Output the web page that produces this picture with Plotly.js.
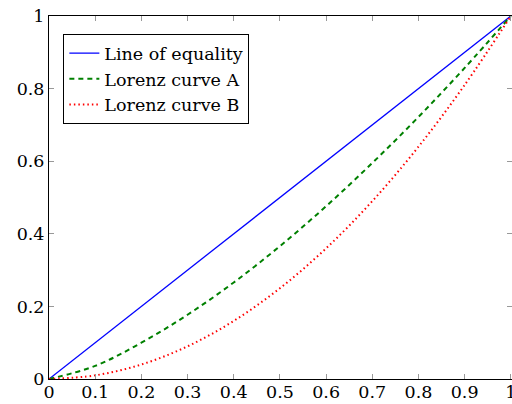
<!DOCTYPE html>
<html>
<head>
<meta charset="utf-8">
<script src="https://cdn.plot.ly/plotly-3.0.1.min.js"></script>
<style>html,body{margin:0;padding:0;background:#fff;}</style>
</head>
<body>
<div id="chart" style="width:512px;height:404px"></div>
<script>
// Data
const xShare = [0, 0.1, 0.2, 0.3, 0.4, 0.5, 0.6, 0.7, 0.8, 0.9, 1];
const equality = [0, 0.1, 0.2, 0.3, 0.4, 0.5, 0.6, 0.7, 0.8, 0.9, 1];
const lorenzA = [0, 0.036, 0.1, 0.177, 0.266, 0.366, 0.476, 0.595, 0.722, 0.857, 1];
const lorenzB = [0, 0.01, 0.04, 0.09, 0.16, 0.25, 0.36, 0.49, 0.64, 0.81, 1];
const names = ["Line of equality", "Lorenz curve A", "Lorenz curve B"];
const xTicks = [0, 0.1, 0.2, 0.3, 0.4, 0.5, 0.6, 0.7, 0.8, 0.9, 1];
const xTickText = ["0", "0.1", "0.2", "0.3", "0.4", "0.5", "0.6", "0.7", "0.8", "0.9", "1"];
const yTicks = [0, 0.2, 0.4, 0.6, 0.8, 1];
const yTickText = ["0", "0.2", "0.4", "0.6", "0.8", "1"];

const font = "DejaVu Serif";
const fsize = 17.5;

const traces = [
  {x: xShare, y: equality, name: names[0], mode: "lines", line: {color: "#0000ff", width: 1.3}},
  {x: xShare, y: lorenzA, name: names[1], mode: "lines", line: {color: "#008000", width: 2, dash: "5px,4px", shape: "spline"}},
  {x: xShare, y: lorenzB, name: names[2], mode: "lines", line: {color: "#ff0000", width: 2, dash: "1.5px,3px", shape: "spline"}}
];
const axisCommon = {
  showline: true, linecolor: "#000", linewidth: 1, mirror: "ticks",
  ticks: "inside", ticklen: 5, tickwidth: 1, tickcolor: "#999",
  showgrid: false, zeroline: false,
  ticklabeloverflow: "allow"
};
const layout = {
  width: 512, height: 404,
  margin: {l: 49, r: 0, t: 16, b: 25},
  paper_bgcolor: "#fff", plot_bgcolor: "#fff",
  font: {family: font, size: fsize, color: "#000"},
  showlegend: true,
  legend: {
    x: 0.031, y: 0.95, xanchor: "left", yanchor: "top",
    bordercolor: "#000", borderwidth: 1, bgcolor: "#fff",
    tracegroupgap: 0
  },
  xaxis: Object.assign({}, axisCommon, {range: [0, 1.0025], tickvals: xTicks, ticktext: xTickText, ticklabelstandoff: -3}),
  yaxis: Object.assign({}, axisCommon, {range: [0, 1], tickvals: yTicks, ticktext: yTickText})
};
Plotly.newPlot("chart", traces, layout, {displayModeBar: false});
</script>
</body>
</html>
